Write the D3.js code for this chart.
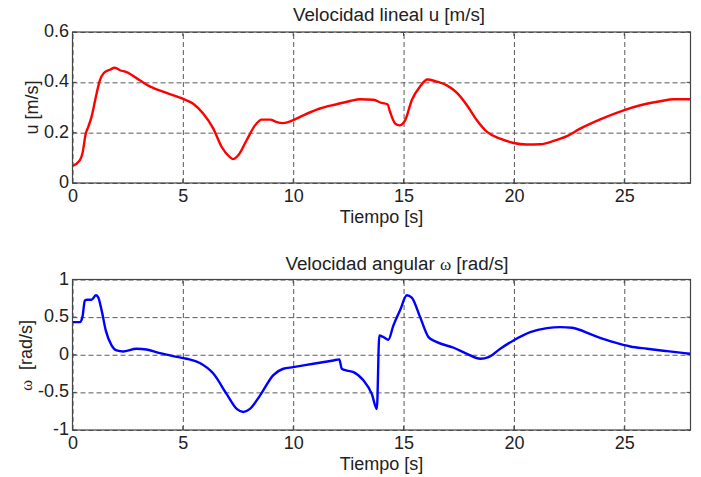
<!DOCTYPE html>
<html><head><meta charset="utf-8">
<script src="https://cdn.jsdelivr.net/npm/d3@7"></script>
<style>
body{margin:0;background:#fff;}
text{font-family:"Liberation Sans",Arial,sans-serif;fill:#222;}
</style></head>
<body><svg id="c" width="701" height="477"></svg>
<script>
// ---- data ----
const uTime = [0,0.33,0.45,0.6,0.71,0.86,1.09,1.24,1.42,1.69,1.92,2.15,2.45,3.05,3.5,4.26,4.99,5.47,5.92,6.38,6.76,7.13,7.28,7.51,7.89,8.27,8.57,8.95,9.25,9.55,9.98,10.46,11.21,11.97,12.58,13.03,13.63,14.01,14.27,14.39,14.62,14.81,15.07,15.37,15.75,16.08,16.43,16.96,17.42,17.87,18.32,18.78,19.38,19.98,20.59,21.19,21.8,22.4,23.0,23.91,24.97,25.73,26.63,27.24,28];
const uVal  = [0.068,0.09,0.117,0.196,0.222,0.262,0.355,0.408,0.437,0.45,0.458,0.448,0.441,0.408,0.384,0.358,0.335,0.315,0.276,0.216,0.143,0.103,0.095,0.11,0.17,0.229,0.252,0.252,0.242,0.238,0.249,0.269,0.296,0.313,0.326,0.333,0.331,0.318,0.313,0.282,0.236,0.229,0.249,0.329,0.384,0.411,0.405,0.388,0.358,0.309,0.249,0.203,0.176,0.159,0.153,0.154,0.167,0.186,0.216,0.253,0.289,0.309,0.325,0.333,0.333];
const wTime = [0,0.33,0.45,0.56,0.66,0.86,1.06,1.16,1.32,1.51,1.77,2.0,2.29,2.9,3.35,3.96,4.56,5.17,5.77,6.38,6.98,7.44,7.74,8.04,8.5,9.1,9.55,10.0,10.91,11.82,12.09,12.2,12.43,12.73,13.18,13.56,13.79,13.9,14.09,14.31,14.54,14.84,15.15,15.37,15.75,16.13,16.51,17.27,17.87,18.48,18.85,19.38,19.98,20.74,21.5,22.1,22.63,23.61,24.52,25.27,26.03,26.94,28];
const wVal  = [0.433,0.433,0.5,0.72,0.73,0.73,0.79,0.765,0.59,0.32,0.124,0.057,0.044,0.08,0.07,0.021,-0.018,-0.053,-0.11,-0.25,-0.52,-0.72,-0.76,-0.72,-0.54,-0.27,-0.186,-0.165,-0.12,-0.076,-0.062,-0.186,-0.21,-0.23,-0.34,-0.52,-0.72,0.256,0.234,0.2,0.39,0.59,0.79,0.76,0.5,0.234,0.167,0.093,0.013,-0.053,-0.032,0.08,0.19,0.3,0.353,0.367,0.358,0.256,0.167,0.11,0.08,0.048,0.013];
const xTicks = [0,5,10,15,20,25];
const uTicks = [0,0.2,0.4,0.6];
const uTickLabels = ["0","0.2","0.4","0.6"];
const wTicks = [-1,-0.5,0,0.5,1];
const wTickLabels = ["-1","-0.5","0","0.5","1"];
const titles = ["Velocidad lineal u [m/s]", "Velocidad angular ", "ω", " [rad/s]"];
const xLabel = "Tiempo [s]";

const svg = d3.select("#c");
const L = 72.5, R = 690.5;

function panel(cfg){
  const x = d3.scaleLinear().domain([0,28]).range([L,R]);
  const y = d3.scaleLinear().domain(cfg.yDomain).range([cfg.bottom,cfg.top]);
  const g = svg.append("g");
  // grid
  const gx = d3.axisBottom(x).tickValues(xTicks).tickSize(-(cfg.bottom-cfg.top)).tickFormat("");
  g.append("g").attr("transform",`translate(0,${cfg.bottom})`).call(gx)
    .call(s=>s.select(".domain").remove())
    .call(s=>s.selectAll("line").attr("stroke","#5a5a5a").attr("stroke-dasharray","5,3").attr("stroke-width",1));
  const gy = d3.axisLeft(y).tickValues(cfg.ticks).tickSize(-(R-L)).tickFormat("");
  g.append("g").attr("transform",`translate(${L},0)`).call(gy)
    .call(s=>s.select(".domain").remove())
    .call(s=>s.selectAll("line").attr("stroke","#5a5a5a").attr("stroke-dasharray","5,3").attr("stroke-width",1));
  // labels
  const xa = d3.axisBottom(x).tickValues(xTicks).tickSize(0).tickPadding(0);
  g.append("g").attr("transform",`translate(0,${cfg.bottom})`).call(xa)
    .call(s=>s.select(".domain").remove())
    .call(s=>s.selectAll("text").attr("dy",null).attr("y",19).attr("font-size",18).attr("fill","#222").attr("font-family","Liberation Sans, Arial, sans-serif"));
  const ya = d3.axisLeft(y).tickValues(cfg.ticks).tickSize(0).tickPadding(3.5)
    .tickFormat((d,i)=>cfg.labels[i]);
  g.append("g").attr("transform",`translate(${L},0)`).call(ya)
    .call(s=>s.select(".domain").remove())
    .call(s=>s.selectAll("text").attr("dy","0.25em").attr("font-size",18).attr("fill","#222").attr("font-family","Liberation Sans, Arial, sans-serif"));
  // small inside ticks
  const tk = g.append("g").attr("stroke","#444").attr("stroke-width",1);
  xTicks.forEach(t=>{
    tk.append("line").attr("x1",x(t)).attr("x2",x(t)).attr("y1",cfg.bottom).attr("y2",cfg.bottom-4);
    tk.append("line").attr("x1",x(t)).attr("x2",x(t)).attr("y1",cfg.top).attr("y2",cfg.top+4);
  });
  cfg.ticks.forEach(t=>{
    tk.append("line").attr("x1",L).attr("x2",L+4).attr("y1",y(t)).attr("y2",y(t));
    tk.append("line").attr("x1",R).attr("x2",R-4).attr("y1",y(t)).attr("y2",y(t));
  });
  // line
  const line = d3.line().x(d=>x(d[0])).y(d=>y(d[1])).curve(d3.curveMonotoneX);
  g.append("path").datum(d3.zip(cfg.tx,cfg.ty)).attr("d",line)
    .attr("fill","none").attr("stroke",cfg.color).attr("stroke-width",2.4).attr("stroke-linejoin","round");
  // frame
  g.append("rect").attr("x",L).attr("y",cfg.top).attr("width",R-L).attr("height",cfg.bottom-cfg.top)
    .attr("fill","none").attr("stroke","#444").attr("stroke-width",1.2);
  // x label
  g.append("text").attr("x",(L+R)/2).attr("y",cfg.bottom+40).attr("text-anchor","middle").attr("font-size",18).text(xLabel);
  return {x,y,g};
}

panel({top:32,bottom:183,yDomain:[0,0.6],ticks:uTicks,labels:uTickLabels,tx:uTime,ty:uVal,color:"#ff0000"});
panel({top:279.5,bottom:430,yDomain:[-1,1],ticks:wTicks,labels:wTickLabels,tx:wTime,ty:wVal,color:"#0000ff"});

// titles
svg.append("text").attr("x",389).attr("y",21).attr("text-anchor","middle").attr("font-size",18.8).text(titles[0]);
const t2 = svg.append("text").attr("x",397).attr("y",270).attr("text-anchor","middle").attr("font-size",18.8);
t2.append("tspan").text(titles[1]);
t2.append("tspan").attr("font-family","Liberation Serif, Times New Roman, serif").attr("font-size",17).text(titles[2]);
t2.append("tspan").text(titles[3]);

// y labels
svg.append("text").attr("transform","translate(38,107.5) rotate(-90)").attr("text-anchor","middle").attr("font-size",18).text("u [m/s]");
const yl = svg.append("text").attr("transform","translate(32,355.5) rotate(-90)").attr("text-anchor","middle").attr("font-size",18);
yl.append("tspan").attr("font-family","Liberation Serif, Times New Roman, serif").attr("font-size",17).text("ω");
yl.append("tspan").attr("xml:space","preserve").text("\u00a0 [rad/s]");
</script></body></html>
